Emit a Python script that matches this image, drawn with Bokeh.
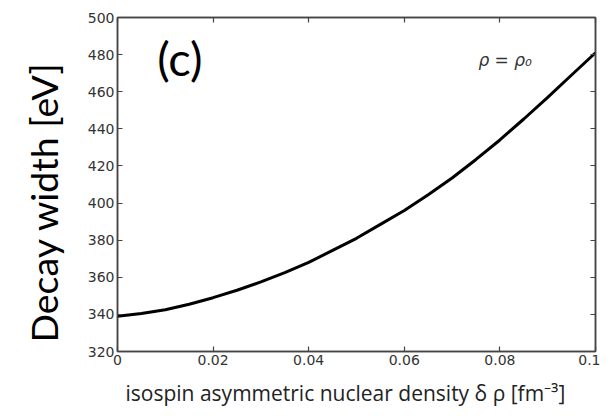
from bokeh.plotting import figure
from bokeh.models import LinearAxis, FixedTicker, Label, Range1d, Title
from bokeh.embed import file_html
from bokeh.resources import INLINE

# data
delta_rho = [0.0, 0.005, 0.01, 0.015, 0.02, 0.025, 0.03, 0.035, 0.04, 0.045, 0.05,
             0.055, 0.06, 0.065, 0.07, 0.075, 0.08, 0.085, 0.09, 0.095, 0.1]
decay_width = [339.0, 340.5, 342.5, 345.5, 349.0, 353.0, 357.5, 362.5, 368.0, 374.5, 381.0,
               388.5, 396.0, 404.5, 413.5, 423.5, 434.0, 445.3, 457.0, 469.0, 481.0]

x_ticks = [0.0, 0.02, 0.04, 0.06, 0.08, 0.1]
x_tick_labels = ["0", "0.02", "0.04", "0.06", "0.08", "0.1"]
y_ticks = [320, 340, 360, 380, 400, 420, 440, 460, 480, 500]
y_tick_labels = ["320", "340", "360", "380", "400", "420", "440", "460", "480", "500"]

panel_label = "(c)"
density_label = "ρ = ρ₀"
x_title = "isospin asymmetric nuclear density  δ ρ  [fm⁻³]"
y_title = "Decay width [eV]"

FRAME = "#444444"
TICKF = "#333333"

W, H = 600, 416
p = figure(width=W, height=H, output_backend="svg", toolbar_location=None,
           x_range=Range1d(0, 0.1), y_range=Range1d(320, 500),
           min_border_left=117, min_border_top=17, min_border_right=5,
           min_border_bottom=H - 351)
p.grid.visible = False
p.outline_line_color = FRAME
p.outline_line_width = 1.5
p.background_fill_color = "white"
p.border_fill_color = "white"

p.line(delta_rho, decay_width, line_color="black", line_width=3)

def style_axis(ax, ticks, labels, show_labels=True):
    ax.ticker = FixedTicker(ticks=ticks)
    if show_labels:
        ax.major_label_overrides = {t: l for t, l in zip(ticks, labels)}
    else:
        ax.major_label_overrides = {t: "" for t in ticks}
    ax.major_tick_in = 5
    ax.major_tick_out = 0
    ax.minor_tick_in = 0
    ax.minor_tick_out = 0
    ax.major_tick_line_color = FRAME
    ax.major_tick_line_width = 1.2
    ax.axis_line_color = FRAME
    ax.axis_line_width = 1.5
    ax.major_label_text_font = "DejaVu Sans"
    ax.major_label_text_font_size = "14px"
    ax.major_label_text_color = TICKF
    ax.major_label_standoff = 3 if show_labels else 0

style_axis(p.xaxis[0], x_ticks, x_tick_labels)
style_axis(p.yaxis[0], y_ticks, y_tick_labels)

top = LinearAxis()
style_axis(top, x_ticks, x_tick_labels, show_labels=False)
p.add_layout(top, "above")
right = LinearAxis()
style_axis(right, y_ticks, y_tick_labels, show_labels=False)
p.add_layout(right, "right")

# axis titles as side-panel titles
p.add_layout(Title(text=x_title, text_font="Open Sans", text_font_size="21px",
                   text_font_style="normal", text_color="#222222",
                   align="left", offset=8, standoff=19), "below")
p.add_layout(Title(text=y_title, text_font="Lato", text_font_size="37.5px",
                   text_font_style="normal", text_color="black",
                   align="left", offset=9, standoff=37), "left")

p.add_layout(Label(x=0.0083, y=478, text=panel_label, text_font="Lato",
                   text_font_size="47px", text_color="black",
                   text_align="left", text_baseline="middle"))
p.add_layout(Label(x=0.0755, y=477, text=density_label, text_font="DejaVu Sans",
                   text_font_size="17px", text_font_style="italic", text_color="#333333",
                   text_align="left", text_baseline="middle"))

open("out.html", "w").write(file_html(p, INLINE))
